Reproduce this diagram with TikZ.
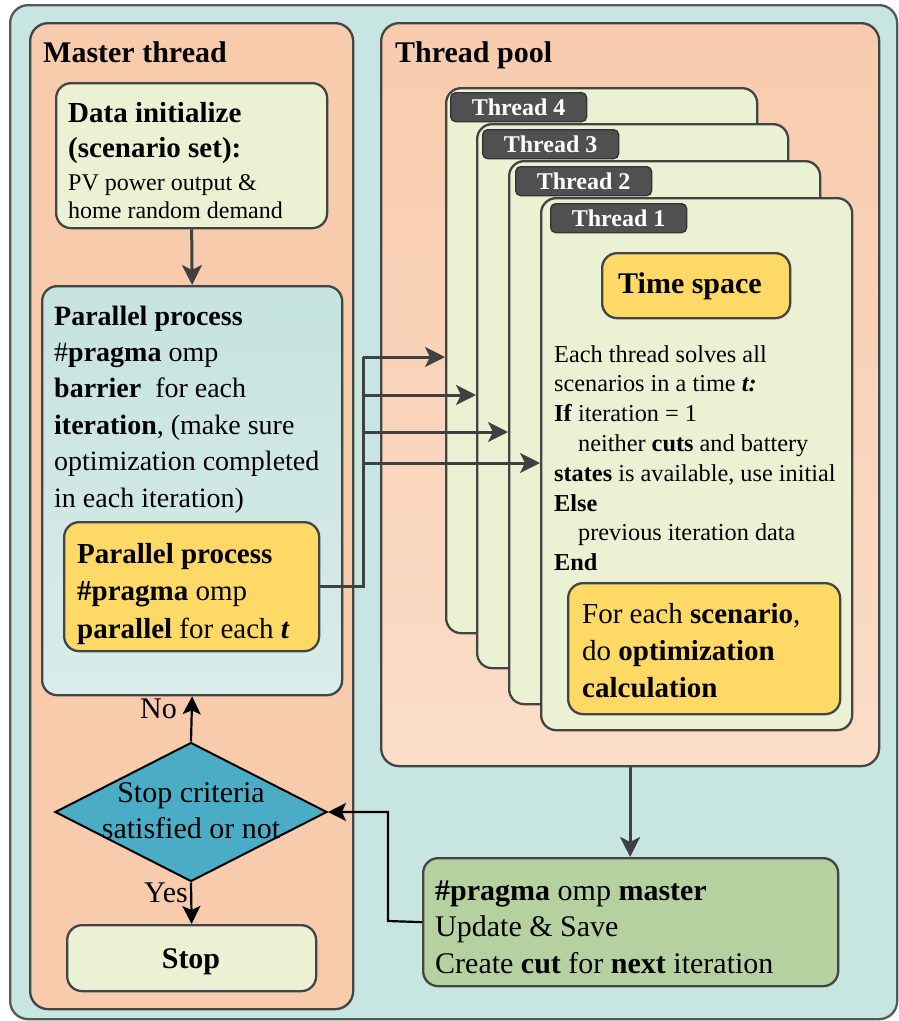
\documentclass[tikz,border=0pt]{standalone}
\usepackage{fontspec}
\setmainfont{Liberation Serif}
\usetikzlibrary{shapes.geometric,arrows.meta}

% stacked lines whose first baseline is the node's base
\newcommand{\lstack}[1]{\begin{tabular}[t]{@{}l@{}}#1\end{tabular}}
\newcommand{\cstack}[1]{\begin{tabular}[t]{@{}c@{}}#1\end{tabular}}
\newcommand{\fsz}[2]{\fontsize{#1}{#2}\selectfont}

\definecolor{bgteal}{HTML}{C8E6E1}
\definecolor{salmon}{HTML}{F8CBAD}
\definecolor{salmonlt}{HTML}{FBDDC8}
\definecolor{paleg}{HTML}{EBF1D3}
\definecolor{tealtop}{HTML}{C5E3DF}
\definecolor{tealbot}{HTML}{D9ECEA}
\definecolor{gold}{HTML}{FFD966}
\definecolor{diacol}{HTML}{4BACC6}
\definecolor{sage}{HTML}{B5D1A0}
\definecolor{tabcol}{HTML}{505050}
\definecolor{edge}{HTML}{444444}
\definecolor{arr}{HTML}{404040}

\begin{document}
\begin{tikzpicture}[x=1pt,y=-1pt,
  boxbase/.style={draw=edge,line width=2.3pt,rounded corners=15pt,anchor=north west,inner sep=0pt},
  outerbox/.style={boxbase,fill=bgteal,draw=edge!90,rounded corners=18pt},
  panel/.style={boxbase,fill=salmon,rounded corners=18pt},
  poolpanel/.style={boxbase,top color=salmon,bottom color=salmonlt,rounded corners=18pt},
  palebox/.style={boxbase,fill=paleg},
  tealbox/.style={boxbase,top color=tealtop,bottom color=tealbot},
  goldbox/.style={boxbase,fill=gold},
  sagebox/.style={boxbase,fill=sage},
  card/.style={boxbase,fill=paleg,minimum width=311pt},
  tabbox/.style={draw=black!80,fill=tabcol,line width=1.3pt,rounded corners=5pt,anchor=north west,
    minimum width=136pt,minimum height=29pt,inner sep=0pt,text=white,font=\fsz{24}{28}\bfseries},
  title/.style={anchor=base west,inner sep=0pt,font=\fsz{30}{36}\bfseries},
  txt/.style={anchor=base west,inner sep=0pt},
  garrow/.style={draw=arr,line width=3pt,-{Stealth[length=20pt,width=20pt,inset=5pt]}},
  gline/.style={draw=arr,line width=3pt},
  karrow/.style={draw=black,line width=2.2pt,-{Stealth[length=18pt,width=18pt,inset=4pt]}},
  decision/.style={diamond,draw=black,line width=2pt,fill=diacol,inner sep=0pt,
    minimum width=272pt,minimum height=139pt}
]
\useasboundingbox (0,0) rectangle (898,1021);

% background and the two panels
\node[outerbox,minimum width=887pt,minimum height=1014pt] (bg) at (9,4) {};
\node[panel,minimum width=323pt,minimum height=986pt] (master) at (29,22) {};
\node[poolpanel,minimum width=498pt,minimum height=743pt] (pool) at (380,22) {};
\node[title] (mtitle) at (43,62) {Master thread};
\node[title] (ptitle) at (395,62) {Thread pool};

% master thread column
\node[palebox,minimum width=271pt,minimum height=145pt] (data) at (55,82) {};
\node[txt,font=\fsz{29}{35}\bfseries] (datah) at (68,122) {\lstack{Data initialize\\(scenario set):}};
\node[txt,font=\fsz{24}{28}] (datab) at (68,190) {\lstack{PV power output \&\\home random demand}};

\node[tealbox,minimum width=300pt,minimum height=409pt] (par) at (41,285) {};
\node[txt,font=\fsz{28}{36.4}] (part) at (54,325) {\lstack{\textbf{Parallel process}\\
  \#\textbf{pragma} omp\\
  \textbf{barrier}\ \ for each\\
  \textbf{iteration}, (make sure\\
  optimization completed\\
  in each iteration)}};

\node[goldbox,minimum width=255pt,minimum height=129pt] (py) at (63,521) {};
\node[txt,font=\fsz{29}{37.5}] (pyt) at (77,563) {\lstack{\textbf{Parallel process}\\
  \textbf{\#pragma} omp\\
  \textbf{parallel} for each \textbf{\textit{t}}}};

\node[decision] (dia) at (191,812) {};
\node[anchor=base,inner sep=0pt,font=\fsz{30}{36}] (diat) at (191,802) {\cstack{Stop criteria\\satisfied or not}};

\node[palebox,minimum width=249pt,minimum height=66pt] (stop) at (66,924) {};
\node[anchor=base,inner sep=0pt,font=\fsz{30}{36}\bfseries] (stopt) at (191,968) {Stop};

\node[anchor=base east,inner sep=0pt,font=\fsz{30}{36}] (no) at (177,718) {No};
\node[anchor=base east,inner sep=0pt,font=\fsz{30}{36}] (yes) at (188,902) {Yes};

% thread cards, back to front
\node[card,minimum height=545pt] (t4) at (445,87) {};
\node[tabbox] (tab4) at (450,92) {Thread 4};
\node[card,minimum height=544pt] (t3) at (476,123) {};
\node[tabbox] (tab3) at (482,129) {Thread 3};
\node[card,minimum height=543pt] (t2) at (508,160) {};
\node[tabbox] (tab2) at (515,166) {Thread 2};
\node[card,minimum height=532pt] (t1) at (540,197) {};
\node[tabbox] (tab1) at (550,203) {Thread 1};

\node[goldbox,minimum width=188pt,minimum height=65pt] (tspace) at (601,252) {};
\node[anchor=base,inner sep=0pt,font=\fsz{30}{36}\bfseries] (tspacet) at (690,293) {Time space};

\node[txt,font=\fsz{24.3}{29.8}] (t1t) at (554,362) {\lstack{Each thread solves all\\
  scenarios in a time \textbf{\textit{t:}}\\
  \textbf{If} iteration = 1\\
  \hspace*{24pt}neither \textbf{cuts} and battery\\
  \textbf{states} is available, use initial\\
  \textbf{Else}\\
  \hspace*{24pt}previous iteration data\\
  \textbf{End}}};

\node[goldbox,minimum width=272pt,minimum height=131pt] (scen) at (567,582) {};
\node[txt,font=\fsz{29}{37}] (scent) at (582,623) {\lstack{For each \textbf{scenario},\\
  do \textbf{optimization}\\
  \textbf{calculation}}};

% master update box
\node[sagebox,minimum width=415pt,minimum height=128pt] (upd) at (422,857) {};
\node[txt,font=\fsz{30}{36.5}] (updt) at (435,900) {\lstack{\textbf{\#pragma} omp \textbf{master}\\
  Update \& Save\\
  Create \textbf{cut} for \textbf{next} iteration}};

% fan-out from the parallel-for box to the threads
\coordinate (j4) at (363,357);
\coordinate (j3) at (363,395);
\coordinate (j2) at (363,432);
\coordinate (j1) at (363,463);
\draw[gline] (py.east) -| (j4);
\draw[garrow] (j4) -- (j4 -| t4.west);
\draw[garrow] (j3) -- (j3 -| t3.west);
\draw[garrow] (j2) -- (j2 -| t2.west);
\draw[garrow] (j1) -- (j1 -| t1.west);

% flow connectors
\draw[garrow] (data.south) -- (par.north);
\draw[garrow] (pool.south) -- (pool.south |- upd.north);
\coordinate (bend) at (388,921);
\draw[karrow] (upd.west) -- (bend) |- (dia.east);
\draw[karrow] (dia.north) -- (par.south);
\draw[karrow] (dia.south) -- (stop.north);
\end{tikzpicture}
\end{document}
